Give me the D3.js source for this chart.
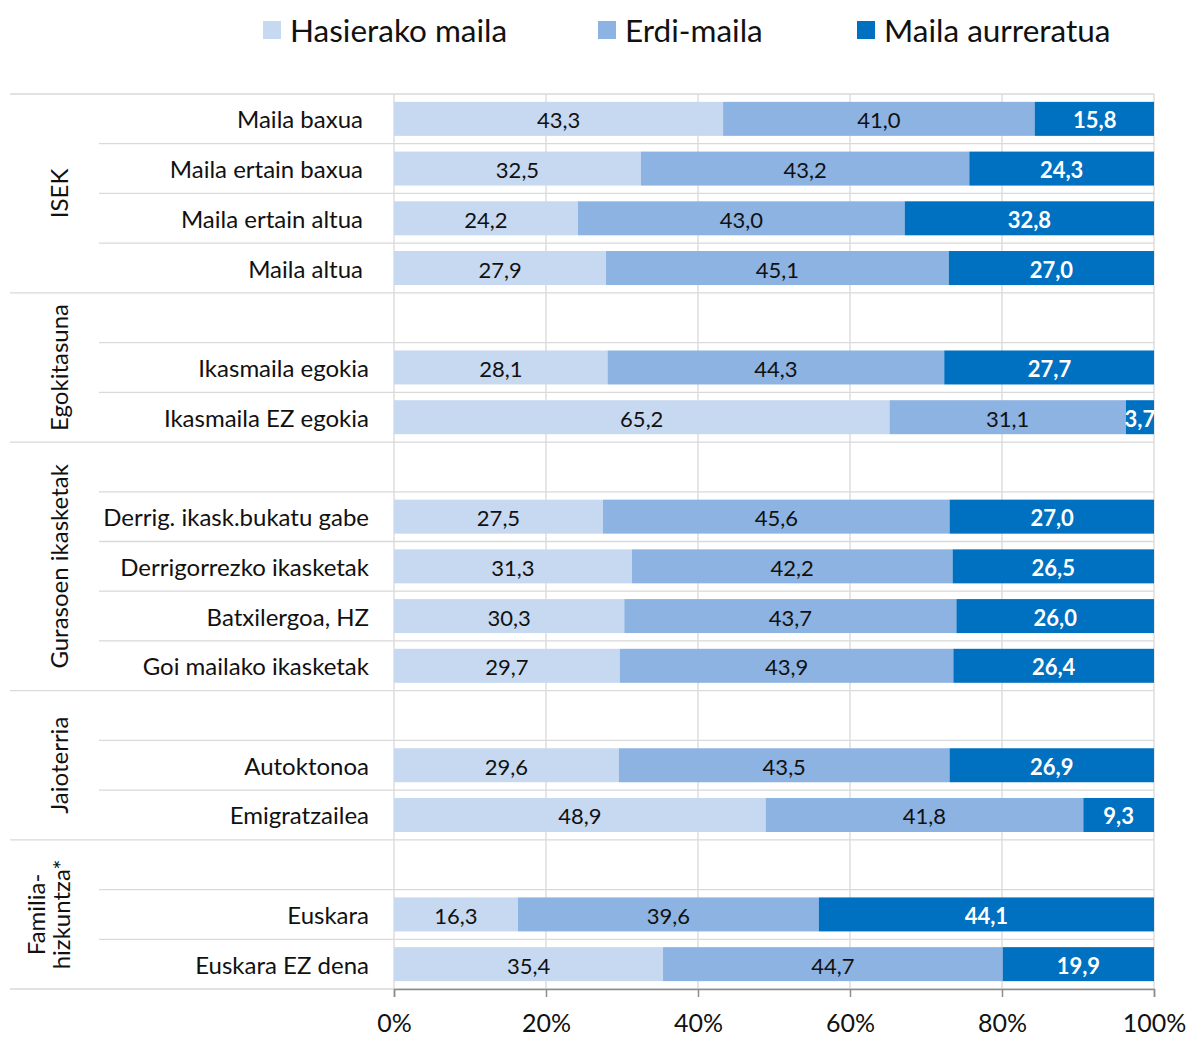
<!DOCTYPE html>
<html><head><meta charset="utf-8">
<script src="https://cdn.jsdelivr.net/npm/d3@7"></script>
<style>body{margin:0;background:#fff}svg{display:block}text{font-family:Lato,"Open Sans",sans-serif}</style>
</head><body>
<svg id="c" width="1188" height="1037"></svg>
<script>
const seriesNames = ["Hasierako maila", "Erdi-maila", "Maila aurreratua"];
const colors = ["#c6d9f1", "#8db3e2", "#0070c0"];
const groups = ["ISEK", "Egokitasuna", "Gurasoen ikasketak", "Jaioterria", "Familia-\nhizkuntza*"];
const groupHasBlank = [false, true, true, true, true];
const categories = [
  ["Maila baxua", "Maila ertain baxua", "Maila ertain altua", "Maila altua"],
  ["Ikasmaila egokia", "Ikasmaila EZ egokia"],
  ["Derrig. ikask.bukatu gabe", "Derrigorrezko ikasketak", "Batxilergoa, HZ", "Goi mailako ikasketak"],
  ["Autoktonoa", "Emigratzailea"],
  ["Euskara", "Euskara EZ dena"]
];
const hasierako = [[43.3,32.5,24.2,27.9],[28.1,65.2],[27.5,31.3,30.3,29.7],[29.6,48.9],[16.3,35.4]];
const erdi = [[41.0,43.2,43.0,45.1],[44.3,31.1],[45.6,42.2,43.7,43.9],[43.5,41.8],[39.6,44.7]];
const aurreratua = [[15.8,24.3,32.8,27.0],[27.7,3.7],[27.0,26.5,26.0,26.4],[26.9,9.3],[44.1,19.9]];
const xTicks = [0,20,40,60,80,100];

// build rows
const rows = [];
groups.forEach((g,gi)=>{
  if(groupHasBlank[gi]) rows.push({key:"blank"+gi, group:gi, blank:true});
  categories[gi].forEach((c,ci)=>{
    rows.push({key:c, group:gi, label:c, v:[hasierako[gi][ci], erdi[gi][ci], aurreratua[gi][ci]]});
  });
});

const svg = d3.select("#c");
const L = 394, R = 1154, T = 94, B = 989;
const x = d3.scaleLinear().domain([0,100]).range([L,R]);
const y = d3.scaleBand().domain(rows.map(r=>r.key)).range([T,B]).paddingInner(0).paddingOuter(0);
const bh = 34;

// gridlines
svg.append("g").selectAll("line").data(xTicks).join("line")
  .attr("x1",d=>x(d)).attr("x2",d=>x(d)).attr("y1",T).attr("y2",B)
  .attr("stroke","#d9d9d9").attr("stroke-width",1.3);

// row separators
rows.forEach((r,i)=>{
  const yy = y(r.key);
  const isGroupStart = i===0 || rows[i-1].group!==r.group;
  svg.append("line").attr("x1", isGroupStart?10:99).attr("x2",R).attr("y1",yy).attr("y2",yy)
    .attr("stroke","#d9d9d9").attr("stroke-width",1.3);
});
svg.append("line").attr("x1",10).attr("x2",R).attr("y1",B).attr("y2",B).attr("stroke","#d9d9d9").attr("stroke-width",1.3);

// stacked bars
const dataRows = rows.filter(r=>!r.blank);
const stackData = dataRows.map(r=>({key:r.key, s0:r.v[0], s1:r.v[1], s2:r.v[2]}));
const stack = d3.stack().keys(["s0","s1","s2"])(stackData);
svg.append("clipPath").attr("id","pc").append("rect").attr("x",L).attr("y",T).attr("width",R-L).attr("height",B-T);
const bars = svg.append("g").attr("clip-path","url(#pc)");
stack.forEach((layer,li)=>{
  const g = bars.append("g");
  g.selectAll("rect").data(layer).join("rect")
    .attr("x",d=>x(d[0])).attr("width",d=>Math.max(0,x(d[1])-x(d[0])))
    .attr("y",d=>y(d.data.key)+(y.bandwidth()-bh)/2).attr("height",bh)
    .attr("fill",colors[li]);
  g.selectAll("text").data(layer).join("text")
    .attr("x",d=>(x(d[0])+x(d[1]))/2).attr("y",d=>y(d.data.key)+y.bandwidth()/2+1)
    .attr("text-anchor","middle").attr("dominant-baseline","central")
    .attr("font-size",22)
    .attr("font-weight", li===2?"bold":"normal")
    .attr("fill", li===2?"#fff":"#111")
    .text(d=>d3.format(".1f")(d[1]-d[0]).replace(".",","));
});

// category labels
svg.append("g").selectAll("text").data(dataRows).join("text")
  .attr("x",d=>d.group===0?363:369).attr("y",d=>y(d.key)+y.bandwidth()/2)
  .attr("text-anchor","end").attr("dominant-baseline","central")
  .attr("font-size",24).attr("fill","#111").text(d=>d.label);

// group labels
groups.forEach((g,gi)=>{
  const gr = rows.filter(r=>r.group===gi);
  const y0 = y(gr[0].key), y1 = y(gr[gr.length-1].key)+y.bandwidth();
  const cy = (y0+y1)/2;
  const lines = g.split("\n");
  const t = svg.append("text").attr("transform",`translate(${lines.length>1?50:60},${cy}) rotate(-90)`)
    .attr("text-anchor","middle").attr("font-size",24).attr("fill","#111");
  lines.forEach((ln,i)=>{
    t.append("tspan").attr("x",0).attr("dy", i===0 ? (lines.length>1? "-0.2em":"0.35em") : "1.05em").text(ln);
  });
});

// x axis
const ax = svg.append("g").attr("transform",`translate(0,${B})`)
  .call(d3.axisBottom(x).tickValues(xTicks).tickSize(8).tickFormat(d=>d+"%"));
ax.select(".domain").attr("stroke","#8c8c8c").attr("stroke-width",1.5);
ax.selectAll(".tick line").attr("stroke","#8c8c8c").attr("stroke-width",1.5);
ax.selectAll(".tick text").attr("font-size",25).attr("fill","#111").attr("dy","0").attr("y",43)
  .attr("font-family","Lato,'Open Sans',sans-serif");

// legend
const legX = [263, 598, 857];
const leg = svg.append("g");
seriesNames.forEach((n,i)=>{
  leg.append("rect").attr("x",legX[i]).attr("y",21).attr("width",18).attr("height",18).attr("fill",colors[i]);
  leg.append("text").attr("x",legX[i]+27).attr("y",30).attr("dominant-baseline","central")
    .attr("font-size",31.5).attr("fill","#111").text(n);
});
</script>
</body></html>
